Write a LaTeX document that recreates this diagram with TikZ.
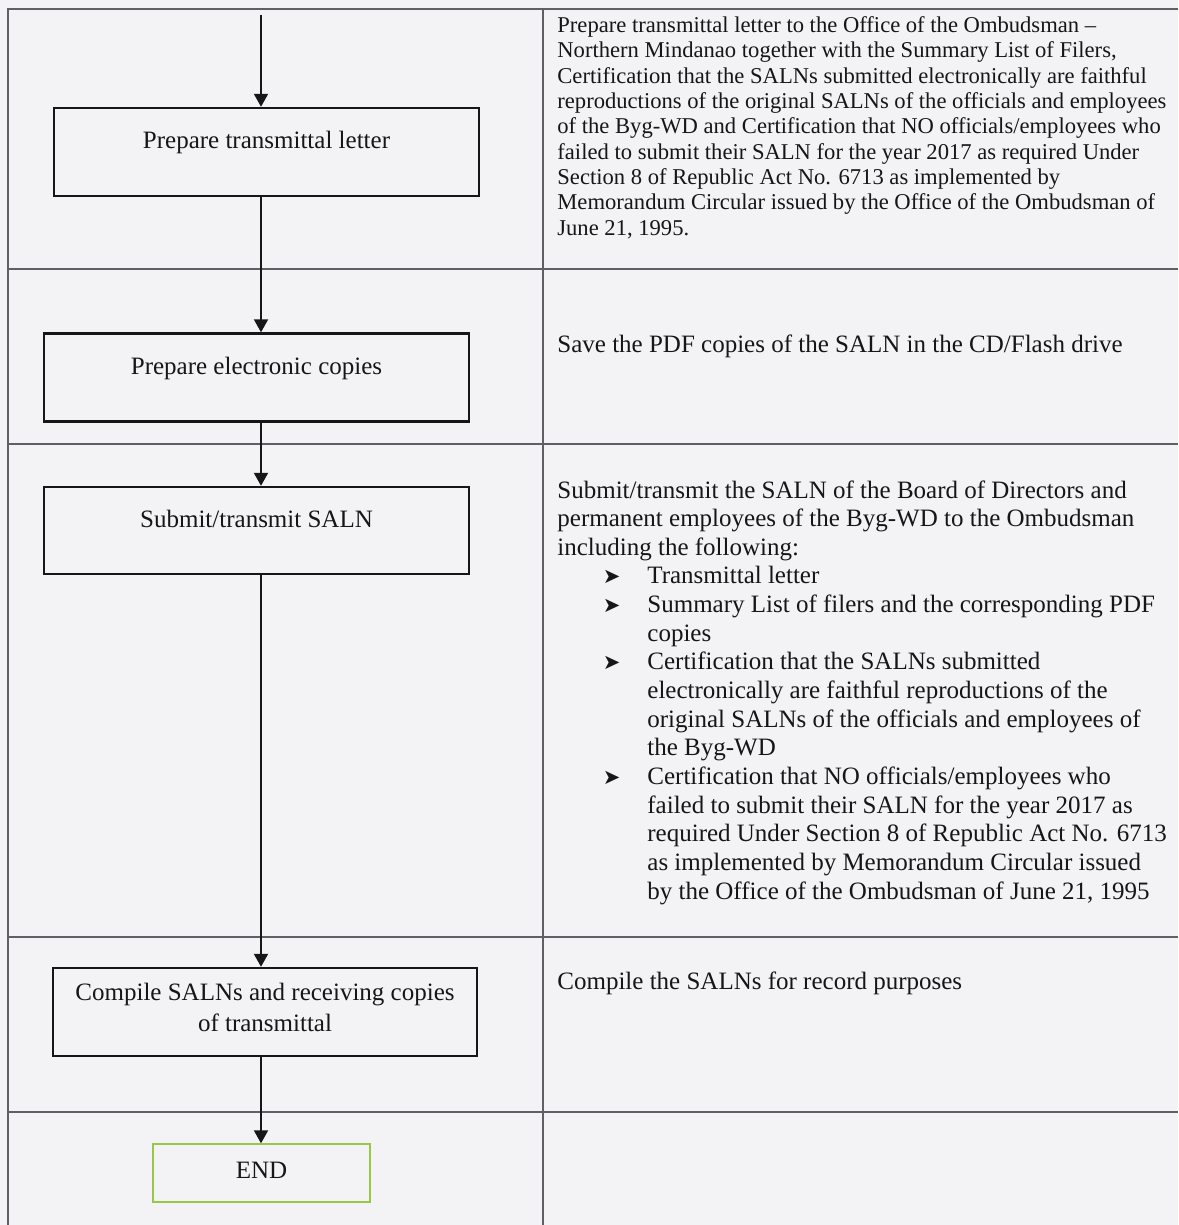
\documentclass[tikz,border=0pt]{standalone}
\usepackage{fontspec}
\setmainfont{Liberation Serif}
\newfontfamily\dingfont{DejaVu Sans}
\usetikzlibrary{arrows.meta, positioning}
\definecolor{paper}{RGB}{243,243,246}
\definecolor{ink}{RGB}{22,22,24}
\definecolor{rulegray}{RGB}{95,95,100}
\definecolor{endgreen}{RGB}{150,200,70}
\newcommand{\notearrow}{\hspace*{45pt}\llap{{\dingfont\fontsize{10.5}{10.5}\selectfont\char"27A4}\hspace{13.5pt}}}
\newcommand{\noteindent}{\hspace*{45pt}}
\tikzset{
    process/.style={draw=ink, line width=1.2pt, minimum width=212.5pt, minimum height=44pt, inner sep=0pt, align=center, font=\fontsize{12.5}{15.5}\selectfont},
    lifted/.style={text height=8.6pt, text depth=12pt},
    finish/.style={draw=endgreen, line width=0.7pt, minimum width=108.5pt, minimum height=29pt, inner sep=0pt, text depth=3pt, font=\fontsize{12.5}{15.5}\selectfont},
    % anchored at the baseline of the last line
    note/.style={anchor=base west, inner sep=0pt, align=left},
    smallnote/.style={note, font=\fontsize{11.3}{12.65}\selectfont},
    largenote/.style={note, font=\fontsize{12.5}{14.32}\selectfont},
    flow/.style={draw=ink, line width=1pt, -{Triangle[width=7pt,length=6.5pt]}},
    rule/.style={draw=rulegray, line width=0.6pt},
}
\begin{document}
\begin{tikzpicture}[x=0.5pt, y=-0.5pt, every node/.append style={text=ink}]
  \fill[paper] (0,0) rectangle (1178,1225);
  \useasboundingbox (0,0) rectangle (1178,1225);

  % table frame
  \draw[rule] (1178,9) -- (8,9) -- (8,1225);
  \draw[rule] (543,9) -- (543,1225);
  \foreach \y in {269,444,937,1112}
    \draw[rule] (8,\y) -- (1178,\y);

  % flow boxes
  \coordinate (entry) at (261,15);
  \node[process, lifted] (prep) at (266.5,152) {Prepare transmittal letter};
  \node[process, lifted] (elec) at (256.5,377.5) {Prepare electronic copies};
  \node[process, lifted, minimum height=43.5pt] (submit) at (256.5,530.5) {Submit/transmit SALN};
  \node[process, minimum width=212pt, text depth=4.5pt] (compile) at (265,1012) {Compile SALNs and receiving copies\\of transmittal};
  \node[finish] (done) at (261.5,1173) {END};

  % arrows
  \draw[flow] (entry) -- (entry |- prep.north);
  \draw[flow] (prep.south -| entry) -- (elec.north -| entry);
  \draw[flow] (elec.south -| entry) -- (submit.north -| entry);
  \draw[flow] (submit.south -| entry) -- (compile.north -| entry);
  \draw[flow] (compile.south -| entry) -- (done.north -| entry);

  % notes
  \node[smallnote] (prepnote) at (557,235) {Prepare transmittal letter to the Office of the Ombudsman --\\
    Northern Mindanao together with the Summary List of Filers,\\
    Certification that the SALNs submitted electronically are faithful\\
    reproductions of the original SALNs of the officials and employees\\
    of the Byg-WD and Certification that NO officials/employees who\\
    failed to submit their SALN for the year 2017 as required Under\\
    Section 8 of Republic Act No. 6713 as implemented by\\
    Memorandum Circular issued by the Office of the Ombudsman of\\
    June 21, 1995.};
  \node[largenote] (elecnote) at (557,352) {Save the PDF copies of the SALN in the CD/Flash drive};
  \node[largenote] (submitnote) at (557,899) {Submit/transmit the SALN of the Board of Directors and\\
    permanent employees of the Byg-WD to the Ombudsman\\
    including the following:\\
    \notearrow Transmittal letter\\
    \notearrow Summary List of filers and the corresponding PDF\\
    \noteindent copies\\
    \notearrow Certification that the SALNs submitted\\
    \noteindent electronically are faithful reproductions of the\\
    \noteindent original SALNs of the officials and employees of\\
    \noteindent the Byg-WD\\
    \notearrow Certification that NO officials/employees who\\
    \noteindent failed to submit their SALN for the year 2017 as\\
    \noteindent required Under Section 8 of Republic Act No. 6713\\
    \noteindent as implemented by Memorandum Circular issued\\
    \noteindent by the Office of the Ombudsman of June 21, 1995};
  \node[largenote] (compilenote) at (557,989) {Compile the SALNs for record purposes};
\end{tikzpicture}
\end{document}
